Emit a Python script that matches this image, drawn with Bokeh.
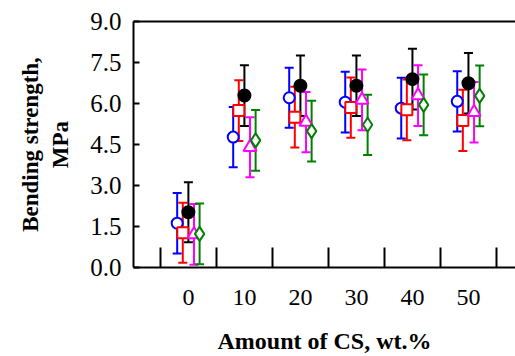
from bokeh.plotting import figure
from bokeh.models import (ColumnDataSource, Whisker, TeeHead, FixedTicker,
                          PrintfTickFormatter, LinearAxis, Range1d)
from bokeh.embed import file_html
from bokeh.resources import INLINE

# categories (CS amount, wt.%)
categories = ["0", "10", "20", "30", "40", "50"]
y_ticks = [0.0, 1.5, 3.0, 4.5, 6.0, 7.5, 9.0]

# bending strength means (MPa) per series
s_blue    = [1.62, 4.77, 6.21, 6.05, 5.83, 6.08]
s_red     = [1.27, 5.74, 5.50, 5.85, 5.77, 5.38]
s_black   = [2.02, 6.29, 6.65, 6.65, 6.89, 6.74]
s_magenta = [1.21, 4.40, 5.32, 6.13, 6.29, 5.68]
s_green   = [1.23, 4.65, 4.99, 5.22, 5.95, 6.28]

# standard deviations (MPa)
e_blue    = [1.11, 1.10, 1.10, 1.11, 1.11, 1.10]
e_red     = [1.10, 1.11, 1.11, 1.10, 1.11, 1.12]
e_black   = [1.10, 1.11, 1.11, 1.11, 1.11, 1.11]
e_magenta = [1.11, 1.10, 1.10, 1.11, 1.11, 1.11]
e_green   = [1.11, 1.11, 1.11, 1.10, 1.11, 1.11]

series = [
    (s_blue, e_blue, "blue", -0.2, "circle", False, 11),
    (s_red, e_red, "red", -0.1, "square", False, 11),
    (s_magenta, e_magenta, "magenta", 0.1, "triangle", False, 13),
    (s_green, e_green, "green", 0.2, "diamond", False, 14),
    (s_black, e_black, "black", 0.0, "circle", True, 12),
]

p = figure(width=515, height=356, output_backend="svg", toolbar_location=None,
           x_range=Range1d(-0.98, 5.84), y_range=Range1d(0, 9.0),
           min_border_left=133, min_border_right=0, min_border_top=21,
           min_border_bottom=89)
p.xaxis.visible = False
p.yaxis.visible = False
p.grid.visible = False
p.outline_line_color = None
p.background_fill_color = "white"

FONT = "Liberation Serif"

for vals, errs, color, off, marker, filled, size in series:
    xs = [i + off for i in range(len(vals))]
    src = ColumnDataSource(dict(
        x=xs, y=vals,
        lo=[v - e for v, e in zip(vals, errs)],
        hi=[v + e for v, e in zip(vals, errs)]))
    w = Whisker(source=src, base="x", upper="hi", lower="lo", dimension="height",
                line_color=color, line_width=2,
                upper_head=TeeHead(size=9, line_color=color, line_width=2),
                lower_head=TeeHead(size=9, line_color=color, line_width=2))
    p.add_layout(w)
    p.scatter("x", "y", source=src, marker=marker, size=size,
              line_color=color, line_width=2,
              fill_color=color if filled else "white")

# bottom axis
xa = LinearAxis(ticker=FixedTicker(ticks=list(range(len(categories))),
                                   minor_ticks=[i - 0.5 for i in range(len(categories) + 1)]))
xa.major_label_overrides = {i: c for i, c in enumerate(categories)}
xa.major_tick_in = 0
xa.major_tick_out = 0
xa.minor_tick_in = 20
xa.minor_tick_out = 0
xa.minor_tick_line_color = "black"
xa.minor_tick_line_width = 2
xa.axis_line_width = 2
xa.major_label_standoff = 22
xa.major_label_text_font = FONT
xa.major_label_text_font_size = "24px"
xa.major_label_text_color = "black"
xa.axis_label = "Amount of CS, wt.%"
xa.axis_label_text_font = FONT
xa.axis_label_text_font_style = "bold"
xa.axis_label_text_font_size = "24px"
xa.axis_label_standoff = 20
xa.axis_label_text_color = "black"
p.add_layout(xa, "below")

# left axis
ya = LinearAxis(ticker=FixedTicker(ticks=y_ticks, minor_ticks=[]),
                formatter=PrintfTickFormatter(format="%.1f"))
ya.major_tick_in = 6
ya.major_tick_out = 0
ya.minor_tick_out = 0
ya.major_tick_line_width = 2
ya.axis_line_width = 2
ya.major_label_standoff = 12
ya.major_label_text_font = FONT
ya.major_label_text_font_size = "25px"
ya.major_label_text_color = "black"
ya.axis_label = "Bending strength,\nMPa"
ya.axis_label_text_font = FONT
ya.axis_label_text_font_style = "bold"
ya.axis_label_text_font_size = "23px"
ya.axis_label_standoff = 14
ya.axis_label_text_color = "black"
p.add_layout(ya, "left")

# top border line
ta = LinearAxis(ticker=FixedTicker(ticks=[]), axis_line_width=2)
ta.major_label_text_font_size = "0px"
ta.major_tick_line_color = None
ta.minor_tick_line_color = None
p.add_layout(ta, "above")

open("out.html", "w").write(file_html(p, INLINE))
